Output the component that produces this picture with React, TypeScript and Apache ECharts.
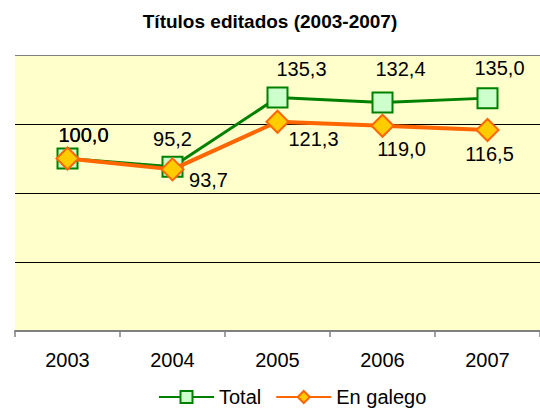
import React, { useEffect, useRef } from "react";
import * as echarts from "echarts";

const years = ["2003", "2004", "2005", "2006", "2007"];
const totalValues = [100.0, 95.2, 135.3, 132.4, 135.0];
const galegoValues = [100.0, 93.7, 121.3, 119.0, 116.5];
const yTicks = [0, 40, 80, 120, 160];

// label placement (styling only)
const totalLabelOffsets = [[16, -24], [0, -28], [24, -29], [18, -34], [12, -30]];
const galegoLabelOffsets = [[16, -24], [36, 11], [36, 17], [19, 23], [2, 24]];

const FONT = "'Liberation Sans', Arial, sans-serif";
const fmt = (p: any) => Number(p.value).toFixed(1).replace(".", ",");

export default function App() {
  const ref = useRef<HTMLDivElement>(null);
  useEffect(() => {
    if (!ref.current) return;
    const chart = echarts.init(ref.current, undefined, { renderer: "svg" });
    chart.setOption({
      animation: false,
      backgroundColor: "#ffffff",
      textStyle: { fontFamily: FONT },
      title: {
        text: "Títulos editados (2003-2007)",
        left: "center",
        top: 7,
        textStyle: { fontFamily: FONT, fontSize: 19, fontWeight: "bold", color: "#000" },
      },
      legend: {
        left: 158,
        top: 387,
        padding: 0,
        itemWidth: 55,
        itemHeight: 15,
        itemGap: 14,
        textStyle: { fontFamily: FONT, fontSize: 20, color: "#000" },
        data: ["Total", "En galego"],
      },
      grid: {
        left: 15,
        right: -5,
        top: 55,
        bottom: 80,
        show: true,
        backgroundColor: "#ffffcc",
        borderWidth: 0,
      },
      xAxis: {
        type: "category",
        data: years,
        boundaryGap: true,
        axisLine: { lineStyle: { color: "#808080", width: 2 } },
        axisTick: { show: true, length: 6, lineStyle: { color: "#808080", width: 1.5 } },
        axisLabel: { fontFamily: FONT, fontSize: 20, color: "#000", margin: 19 },
        splitLine: { show: false },
      },
      yAxis: {
        type: "value",
        min: yTicks[0],
        max: yTicks[yTicks.length - 1],
        interval: 40,
        axisLabel: { show: false },
        axisLine: { show: false },
        axisTick: { show: false },
        splitLine: {
          show: true,
          lineStyle: { color: ["#808080", "#000000", "#000000", "#000000", "#808080"], width: 1 },
        },
      },
      series: [
        {
          name: "Total",
          type: "line",
          data: totalValues.map((v, i) => ({ value: v, label: { offset: totalLabelOffsets[i] } })),
          symbol: "rect",
          symbolSize: 20,
          lineStyle: { color: "#008000", width: 3 },
          itemStyle: { color: "#ccffcc", borderColor: "#008000", borderWidth: 2 },
          label: {
            show: true,
            position: "inside",
            formatter: fmt,
            fontFamily: FONT,
            fontSize: 20,
            color: "#000",
          },
          z: 2,
        },
        {
          name: "En galego",
          type: "line",
          data: galegoValues.map((v, i) => ({ value: v, label: { offset: galegoLabelOffsets[i] } })),
          symbol: "diamond",
          symbolSize: 22,
          lineStyle: { color: "#ff6600", width: 4 },
          itemStyle: { color: "#ffcc00", borderColor: "#ff6600", borderWidth: 2 },
          label: {
            show: true,
            position: "inside",
            formatter: fmt,
            fontFamily: FONT,
            fontSize: 20,
            color: "#000",
          },
          z: 3,
        },
      ],
    });
    return () => chart.dispose();
  }, []);
  return (
    <div
      ref={ref}
      style={{ position: "absolute", left: 0, top: 0, width: 540, height: 411 }}
    />
  );
}
